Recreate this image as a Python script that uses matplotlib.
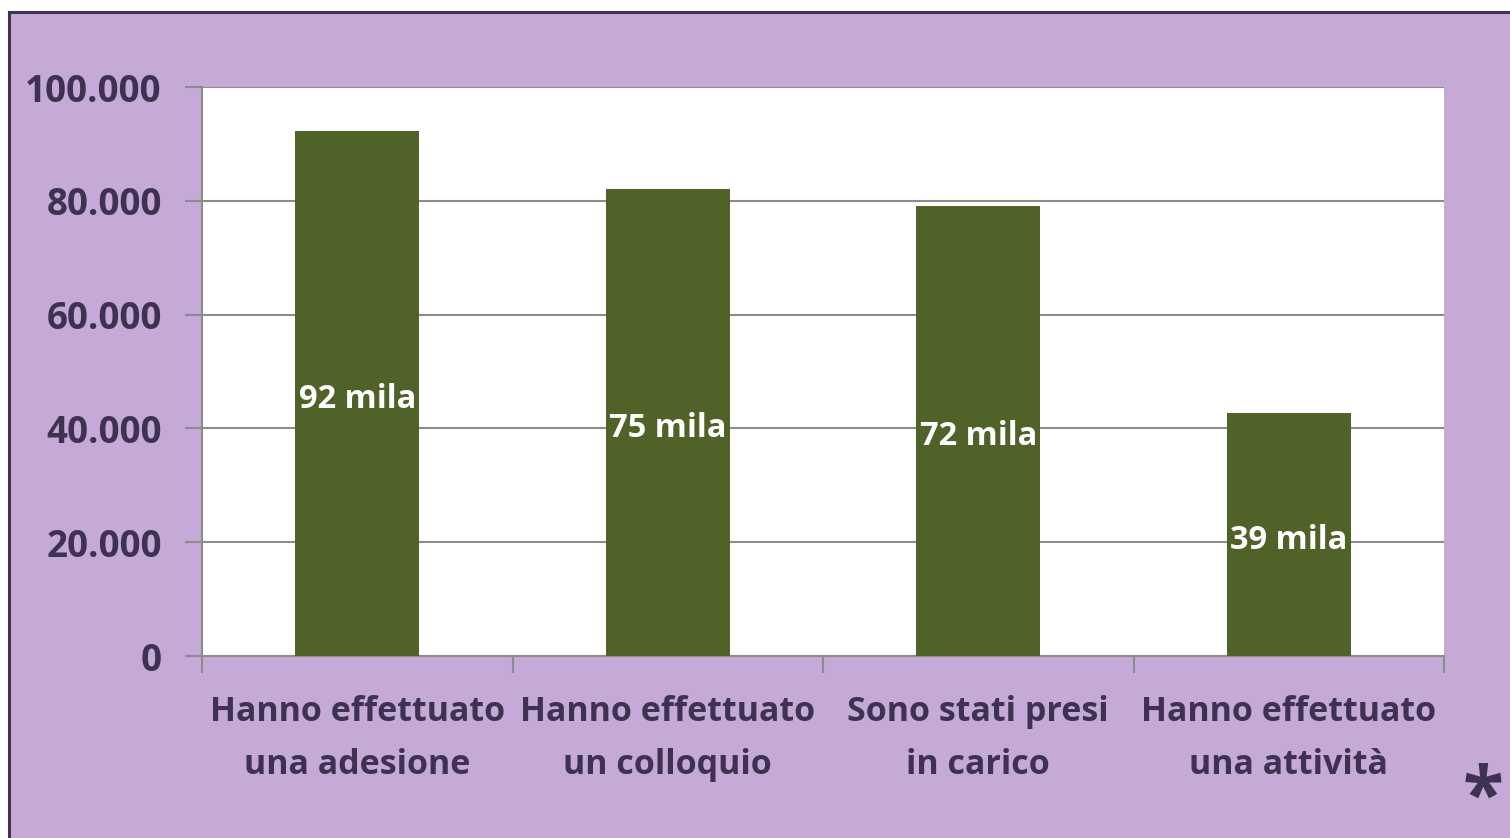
import matplotlib.pyplot as plt
from matplotlib.patches import Rectangle

categories = ["Hanno effettuato\nuna adesione", "Hanno effettuato\nun colloquio",
              "Sono stati presi\nin carico", "Hanno effettuato\nuna attività"]
values = [92200, 82000, 79000, 42700]
bar_labels = ["92 mila", "75 mila", "72 mila", "39 mila"]
y_ticks = [0, 20000, 40000, 60000, 80000, 100000]
y_tick_labels = ["0", "20.000", "40.000", "60.000", "80.000", "100.000"]

purple = "#c5a9d7"
dark = "#3f3152"
green = "#4f6228"
grid_gray = "#8c8c8c"

plt.rcParams["font.family"] = ["Open Sans", "DejaVu Sans"]

W, H = 1510, 838
fig = plt.figure(figsize=(W / 100, H / 100), dpi=100, facecolor="white")

# purple panel with dark left/top border
fig.patches.append(Rectangle((9 / W, 0), 1 - 9 / W, 1 - 12 / H, transform=fig.transFigure,
                             facecolor=purple, edgecolor="none", zorder=-10))
fig.lines.append(plt.Line2D([9 / W, 9 / W], [0, 1 - 12 / H], transform=fig.transFigure,
                            color=dark, lw=2.2, zorder=-9))
fig.lines.append(plt.Line2D([9 / W, 1], [1 - 12 / H, 1 - 12 / H], transform=fig.transFigure,
                            color=dark, lw=2.2, zorder=-9))

ax = fig.add_axes([202 / W, (H - 656) / H, (1444 - 202) / W, (656 - 87) / H])
ax.set_facecolor("white")

x = list(range(len(categories)))
bars = ax.bar(x, values, width=0.4, color=green, zorder=3)

for b, lab in zip(bars, bar_labels):
    ax.annotate(lab, (b.get_x() + b.get_width() / 2, b.get_height() / 2),
                xytext=(0, -4), textcoords="offset points", ha="center", va="center",
                color="white", fontsize=23.5, fontweight="bold", zorder=4)

ax.set_xlim(-0.5, len(categories) - 0.5)
ax.set_ylim(0, 100000)
ax.set_yticks(y_ticks)
ax.set_yticklabels(y_tick_labels)
ax.yaxis.grid(True, color=grid_gray, lw=1.5, zorder=1)

ax.set_xticks([i - 0.5 for i in range(len(categories) + 1)])
ax.set_xticklabels([])
ax.set_xticks(x, minor=True)
ax.set_xticklabels(categories, minor=True)
ax.tick_params(axis="x", which="major", length=12, width=1.5, color=grid_gray, direction="out")
ax.tick_params(axis="x", which="minor", length=0, pad=28, labelsize=24.5, labelcolor=dark)
for t in ax.get_xticklabels(minor=True):
    t.set_fontweight("bold")
    t.set_linespacing(1.75)
ax.tick_params(axis="y", length=12, width=1.5, color=grid_gray, direction="out",
               labelsize=26.5, labelcolor=dark, pad=17)
for t in ax.get_yticklabels():
    t.set_fontweight("bold")

for s in ["top", "right"]:
    ax.spines[s].set_visible(False)
for s in ["left", "bottom"]:
    ax.spines[s].set_color(grid_gray)
    ax.spines[s].set_linewidth(1.5)

fig.text(1483 / W, 1 - 800 / H, "*", ha="center", va="center", fontsize=54,
         fontweight="bold", color=dark)

fig.savefig("out.png", dpi=100, facecolor=fig.get_facecolor())
